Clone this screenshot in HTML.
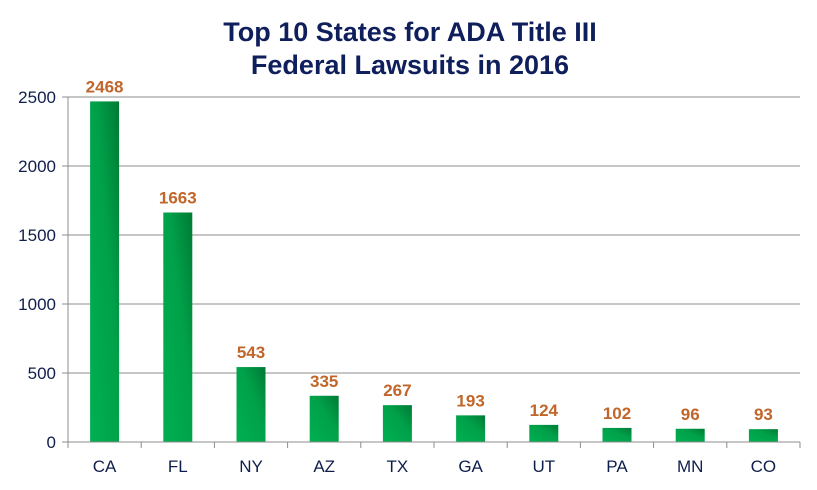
<!DOCTYPE html>
<html><head><meta charset="utf-8"><style>
body{margin:0;background:#fff;}
svg text{font-family:"Liberation Sans",Arial,sans-serif;}
</style></head><body>
<svg width="817" height="485">
<defs>
<linearGradient id="g" x1="0" y1="1" x2="1" y2="0">
<stop offset="0" stop-color="#00b050"/><stop offset="0.6" stop-color="#00a049"/><stop offset="1" stop-color="#007a35"/>
</linearGradient>
</defs>
<text x="410" y="41" text-anchor="middle" font-size="27" font-weight="bold" fill="#0f1f5c">Top 10 States for ADA Title III</text>
<text x="410" y="74" text-anchor="middle" font-size="27" font-weight="bold" fill="#0f1f5c">Federal Lawsuits in 2016</text>
<g id="grid"></g><g id="bars"></g><g id="axes"></g>
</svg>
<script>
const categories=["CA","FL","NY","AZ","TX","GA","UT","PA","MN","CO"];
const values=[2468,1663,543,335,267,193,124,102,96,93];
const yTicks=[0,500,1000,1500,2000,2500];
const NS="http://www.w3.org/2000/svg";
const x0=68,x1=800,y0=442,y1=97,yMax=2500;
const bw=(x1-x0)/categories.length;
const y=v=>y0-(v/yMax)*(y0-y1);
const xc=i=>x0+bw*(i+0.5);
function mk(t,a,p){const e=document.createElementNS(NS,t);for(const k in a)e.setAttribute(k,a[k]);p.appendChild(e);return e;}
const grid=document.getElementById('grid'),bars=document.getElementById('bars'),axes=document.getElementById('axes');
yTicks.forEach(v=>{
 if(v>0){const l=mk('line',{x1:x0,x2:x1,y1:y(v),y2:y(v),stroke:'#8c8c8c','stroke-width':1},grid);
 
 }
 mk('line',{x1:x0-6,x2:x0,y1:y(v),y2:y(v),stroke:'#8c8c8c'},axes);
 const t=mk('text',{x:x0-12,y:y(v)+6,'text-anchor':'end','font-size':17,fill:'#0f1f4c'},axes);t.textContent=v;
 
 
});
const ya=mk('line',{x1:x0,x2:x0,y1:y1,y2:y0,stroke:'#8c8c8c'},axes);


const xa=mk('line',{x1:x0,x2:x1,y1:y0,y2:y0,stroke:'#8c8c8c'},axes);


categories.forEach((c,i)=>{
 mk('line',{x1:x0+bw*i,x2:x0+bw*i,y1:y0,y2:y0+6,stroke:'#8c8c8c'},axes);
 if(i==categories.length-1)mk('line',{x1:x1,x2:x1,y1:y0,y2:y0+6,stroke:'#8c8c8c'},axes);
 const b=mk('rect',{x:xc(i)-14.5,y:y(values[i]),width:29,height:y0-y(values[i]),fill:'url(#g)'},bars);
 
 
 const v=mk('text',{x:xc(i),y:y(values[i])-9,'text-anchor':'middle','font-size':17,'font-weight':'bold',fill:'#c0662a'},bars);v.textContent=values[i];
 
 
 const t=mk('text',{x:xc(i),y:472,'text-anchor':'middle','font-size':17,fill:'#0f1f4c'},axes);t.textContent=c;
 
 
});
</script>
</body></html>
